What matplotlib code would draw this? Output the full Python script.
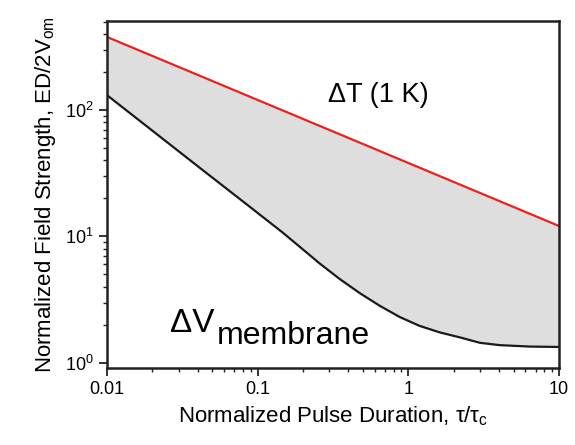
import matplotlib
matplotlib.use("Agg")
import matplotlib.pyplot as plt
import numpy as np
from matplotlib.ticker import FixedLocator, FixedFormatter, LogLocator, NullFormatter

plt.rcParams["font.family"] = ["Liberation Sans", "DejaVu Sans"]
plt.rcParams["mathtext.default"] = "regular"

# thermal limit (Delta T = 1 K), straight line in log-log
tau_heat = [0.01, 10.0]
e_heat = [378.0, 12.1]

# membrane charging threshold
tau_mem = [0.01, 0.0414, 0.089, 0.147, 0.191, 0.259, 0.351, 0.478, 0.649,
           0.88, 1.19, 1.62, 2.2, 2.99, 4.05, 6.41, 10.0]
e_mem = [131.0, 34.8, 17.1, 10.7, 8.25, 6.09, 4.60, 3.55, 2.82,
         2.30, 1.96, 1.74, 1.59, 1.44, 1.38, 1.345, 1.335]

xticks = [0.01, 0.1, 1, 10]
xticklabels = ["0.01", "0.1", "1", "10"]

fig = plt.figure(figsize=(5.75, 4.45), dpi=100)
ax = fig.add_axes([0.186, 0.173, 0.786, 0.780])

# heat line evaluated on the membrane grid (straight in log-log) for the band
lt = np.log10(tau_mem)
heat_on_grid = 10 ** np.interp(lt, np.log10(tau_heat), np.log10(e_heat))
ax.fill_between(tau_mem, e_mem, heat_on_grid, color="#dedede", lw=0)
ax.plot(tau_heat, e_heat, color="#e8231f", lw=1.6)
ax.plot(tau_mem, e_mem, color="#1a1a1a", lw=1.6)

ax.set_xscale("log"); ax.set_yscale("log")
ax.set_xlim(0.01, 10); ax.set_ylim(0.91, 506)
ax.xaxis.set_major_locator(FixedLocator(xticks))
ax.xaxis.set_major_formatter(FixedFormatter(xticklabels))
ax.xaxis.set_minor_locator(LogLocator(base=10, subs=np.arange(2, 10)))
ax.xaxis.set_minor_formatter(NullFormatter())
ax.yaxis.set_major_locator(FixedLocator([1, 10, 100]))
ax.yaxis.set_minor_locator(LogLocator(base=10, subs=np.arange(2, 10)))
ax.yaxis.set_minor_formatter(NullFormatter())

for s in ax.spines.values():
    s.set_linewidth(1.8); s.set_color("#222222")
ax.tick_params(which="major", direction="out", length=6, width=1.3, labelsize=13, color="#222222")
ax.tick_params(which="minor", direction="out", length=3, width=1.0, color="#222222")
ax.tick_params(axis="x", pad=3)

ax.set_xlabel(r"Normalized Pulse Duration, $\tau/\tau_{c}$", fontsize=16, labelpad=5)
ax.set_ylabel(r"Normalized Field Strength, ED/2V$_{om}$", fontsize=16, labelpad=5)

ax.text(0.49, 0.765, "ΔT (1 K)", transform=ax.transAxes, fontsize=19.5, ha="left", va="baseline")
ax.text(0.139, 0.104, "ΔV", transform=ax.transAxes, fontsize=24, ha="left", va="baseline")
ax.text(0.243, 0.069, "membrane", transform=ax.transAxes, fontsize=23, ha="left", va="baseline")

fig.savefig("out.png", dpi=100)
